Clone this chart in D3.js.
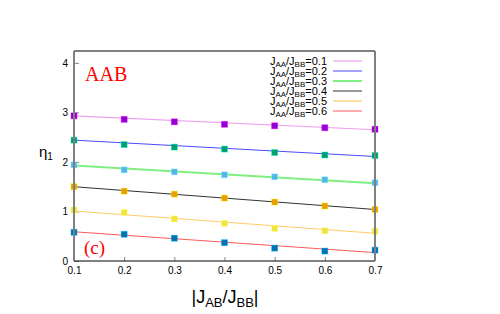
<!DOCTYPE html>
<html><head><meta charset="utf-8">
<script src="https://cdn.jsdelivr.net/npm/d3@7"></script>
<style>body{margin:0;background:#fff}svg{display:block}</style>
</head><body>
<svg id="c" width="500" height="314"></svg>
<script>
const xValues = [0.1, 0.2, 0.3, 0.4, 0.5, 0.6, 0.7];
const seriesLabels = ["0.1", "0.2", "0.3", "0.4", "0.5", "0.6"];
const pts01 = [2.93, 2.86, 2.81, 2.76, 2.73, 2.69, 2.66];
const pts02 = [2.44, 2.35, 2.30, 2.26, 2.19, 2.14, 2.13];
const pts03 = [1.94, 1.84, 1.80, 1.74, 1.70, 1.64, 1.58];
const pts04 = [1.50, 1.41, 1.35, 1.27, 1.19, 1.11, 1.04];
const pts05 = [1.03, 0.98, 0.85, 0.76, 0.66, 0.61, 0.60];
const pts06 = [0.58, 0.54, 0.46, 0.37, 0.26, 0.20, 0.22];
// fitted straight lines: value at x=0.1 and x=0.7
const fit01 = [2.93, 2.65];
const fit02 = [2.44, 2.11];
const fit03 = [1.93, 1.57];
const fit04 = [1.50, 1.04];
const fit05 = [1.01, 0.56];
const fit06 = [0.59, 0.17];
const xTicks = [0.1, 0.2, 0.3, 0.4, 0.5, 0.6, 0.7];
const yTicks = [0, 1, 2, 3, 4];

const points = [pts01, pts02, pts03, pts04, pts05, pts06];
const fits = [fit01, fit02, fit03, fit04, fit05, fit06];
const lineColors = ["#f0a0f0", "#4a4aff", "#80ee80", "#333333", "#ffcc66", "#ff5a5a"];
const lineWidths = [1.2, 1, 2, 1, 1.2, 1];
const markColors = ["#9400d3", "#009e73", "#56b4e9", "#e69f00", "#f0e442", "#0072b2"];

const svg = d3.select("#c");
const L = 74, R = 375, T = 51, B = 261;
const x = d3.scaleLinear().domain([0.1, 0.7]).range([L, R]);
const y = d3.scaleLinear().domain([0, 4.24]).range([B, T]);

const sans = "'Liberation Sans', Arial, sans-serif";
const serif = "'Liberation Serif', 'Times New Roman', serif";

// axes
const xa = svg.append("g").attr("transform", `translate(0,${B})`)
  .call(d3.axisBottom(x).tickValues(xTicks).tickSize(-4).tickPadding(6).tickFormat(d3.format(".1f")));
const ya = svg.append("g").attr("transform", `translate(${L},0)`)
  .call(d3.axisLeft(y).tickValues(yTicks).tickSize(-5).tickPadding(6).tickFormat(d3.format("d")));
[xa, ya].forEach(a => {
  a.select(".domain").remove();
  a.selectAll(".tick line").attr("stroke", "#888").attr("stroke-width", 1);
  a.selectAll(".tick text").attr("font-family", sans).attr("font-size", 10).attr("fill", "#000");
});

// fits
const g = svg.append("g");
fits.forEach((f, i) => {
  g.append("line")
    .attr("x1", x(0.1)).attr("y1", y(f[0]))
    .attr("x2", x(0.7)).attr("y2", y(f[1]))
    .attr("stroke", lineColors[i]).attr("stroke-width", lineWidths[i]);
});
// points
points.forEach((p, i) => {
  g.selectAll(null).data(p).join("rect")
    .attr("x", (d, j) => x(xValues[j]) - 3)
    .attr("y", d => y(d) - 3)
    .attr("width", 6).attr("height", 6)
    .attr("fill", markColors[i])
    .attr("stroke", d3.color(markColors[i]).brighter(1.2)).attr("stroke-opacity", 0.5).attr("stroke-width", 0.8);
});

// frame
svg.append("line").attr("x1", L).attr("x2", R).attr("y1", T).attr("y2", T).attr("stroke", "#000");
svg.append("line").attr("x1", L).attr("x2", R).attr("y1", B).attr("y2", B).attr("stroke", "#000");
svg.append("line").attr("x1", L).attr("x2", L).attr("y1", T).attr("y2", B).attr("stroke", "#808080").attr("stroke-width", 2);
svg.append("line").attr("x1", R).attr("x2", R).attr("y1", T).attr("y2", B).attr("stroke", "#808080").attr("stroke-width", 2);

// legend
const leg = svg.append("g");
seriesLabels.forEach((s, i) => {
  const yy = 61 + i * 10;
  const t = leg.append("text").attr("x", 327).attr("y", yy + 4).attr("text-anchor", "end")
    .attr("font-family", sans).attr("font-size", 11).attr("fill", "#000");
  t.append("tspan").text("J");
  t.append("tspan").attr("font-size", 8).attr("dy", 2).text("AA");
  t.append("tspan").attr("dy", -2).text("/J");
  t.append("tspan").attr("font-size", 8).attr("dy", 2).text("BB");
  t.append("tspan").attr("dy", -2).text("=" + s);
  leg.append("line").attr("x1", 333).attr("x2", 362).attr("y1", yy).attr("y2", yy)
    .attr("stroke", lineColors[i]).attr("stroke-width", lineWidths[i]);
});

// annotations
svg.append("text").attr("x", 85).attr("y", 81).attr("font-family", serif).attr("font-size", 20).attr("fill", "#ff0000").text("AAB");
svg.append("text").attr("x", 84).attr("y", 254).attr("font-family", serif).attr("font-size", 19).attr("fill", "#ff0000").text("(c)");

// axis labels
const yl = svg.append("text").attr("x", 39).attr("y", 157).attr("font-family", sans).attr("font-size", 15).attr("fill", "#000");
yl.append("tspan").text("η");
yl.append("tspan").attr("font-size", 10).attr("dy", 3).text("1");

const xl = svg.append("text").attr("x", 225).attr("y", 303).attr("text-anchor", "middle").attr("font-family", sans).attr("font-size", 18).attr("fill", "#000");
xl.append("tspan").text("|J");
xl.append("tspan").attr("font-size", 13).attr("dy", 4).text("AB");
xl.append("tspan").attr("dy", -4).text("/J");
xl.append("tspan").attr("font-size", 13).attr("dy", 4).text("BB");
xl.append("tspan").attr("dy", -4).text("|");
</script>
</body></html>
